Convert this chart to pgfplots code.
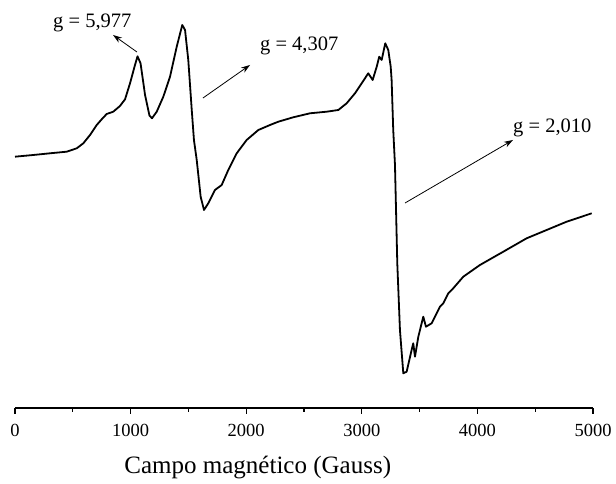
\documentclass[border=0pt]{standalone}
\usepackage{pgfplots}
\pgfplotsset{compat=1.18}
\usepackage{fontspec}
\setmainfont{Liberation Serif}
\usetikzlibrary{arrows.meta}
\begin{document}
\begin{tikzpicture}
\path[use as bounding box] (-15pt,-76pt) rectangle (601pt,408pt);
\begin{axis}[
  scale only axis, width=578pt, height=408pt,
  xmin=0, xmax=5000, ymin=0, ymax=408,
  axis x line*=bottom, axis y line=none,
  clip=false,
  axis line style={line width=1.2pt},
  xtick={0,1000,2000,3000,4000,5000},
  xticklabels={0,1000,2000,3000,4000,5000},
  minor x tick num=1,
  tick align=outside,
  major tick length=6pt, minor tick length=4pt,
  every tick/.style={black, line width=1.2pt},
  xticklabel style={font=\fontsize{18.5}{21}\selectfont, yshift=-7pt},
  xlabel={Campo magnético (Gauss)},
  xlabel style={font=\fontsize{25}{29}\selectfont, at={(axis description cs:0.42,0)}, anchor=base, yshift=-66pt},
]
\addplot[black, line width=1.8pt, line join=round] coordinates {
(0,251.3) (158,253) (303,254.7) (447,256.3) (534,259.7) (591,264.7) (649,273)
(707,283) (750,288.7) (793,294) (850,296.3) (908,302) (952,308.7) (995,324.7)
(1038,343) (1060,351.7) (1086,344.7) (1125,313) (1163,292.5) (1185,289.7)
(1226,296.3) (1283,311.3) (1341,331.3) (1399,361.3) (1447,383) (1471,378)
(1499,348) (1529,298) (1548,268) (1572,248) (1606,211.3) (1635,198) (1672,204.7)
(1730,218) (1788,223) (1845,238) (1918,254.7) (2004,268) (2105,278) (2206,283)
(2278,286.3) (2407,290.7) (2552,294.7) (2696,296.3) (2797,298) (2869,304.7)
(2941,314.7) (2999,324.7) (3056,334.7) (3094,328) (3129,341.3) (3151,351.3)
(3172,348) (3203,364.7) (3229,358) (3250,341.3) (3258,328) (3272,278) (3287,243)
(3307,144.7) (3330,78) (3359,34.7) (3388,36.3) (3431,58) (3445,64.7) (3460,51.3)
(3489,71.3) (3532,91.3) (3555,81.3) (3604,84.7) (3676,101.3) (3705,104.7)
(3748,114.7) (3791,119.7) (3878,131.3) (4022,143) (4224,156.3) (4426,169.7)
(4599,178) (4772,186.3) (4989,194.7)
};
\draw[-{Stealth[length=9pt,width=6pt]}, line width=0.8pt] (axis cs:1055,356) -- (axis cs:848,373);
\draw[-{Stealth[length=9pt,width=6pt]}, line width=0.8pt] (axis cs:1626,310) -- (axis cs:2033,343);
\draw[-{Stealth[length=9pt,width=6pt]}, line width=0.8pt] (axis cs:3374,205) -- (axis cs:4308,268);
\node[anchor=base west, inner sep=0pt, font=\fontsize{20.5}{24}\selectfont] at (axis cs:329,380) {g = 5,977};
\node[anchor=base west, inner sep=0pt, font=\fontsize{20.5}{24}\selectfont] at (axis cs:2119,357) {g = 4,307};
\node[anchor=base west, inner sep=0pt, font=\fontsize{20.5}{24}\selectfont] at (axis cs:4308,275) {g = 2,010};
\end{axis}
\end{tikzpicture}
\end{document}
